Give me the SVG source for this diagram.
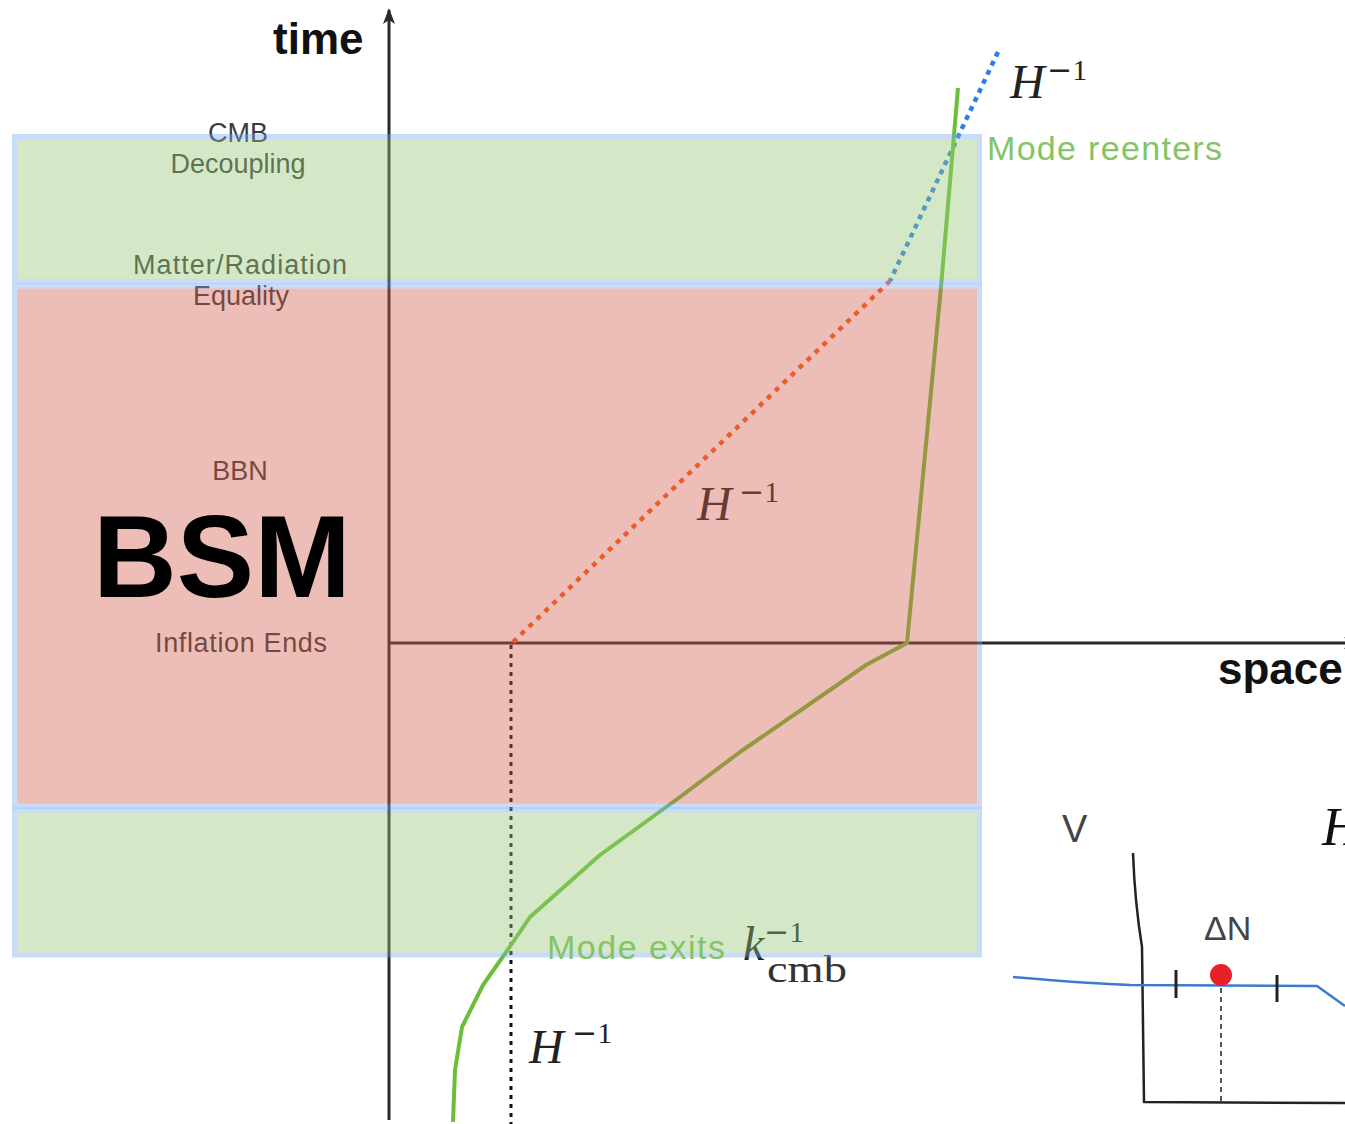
<svg xmlns="http://www.w3.org/2000/svg" width="1345" height="1124" viewBox="0 0 1345 1124">
<style>
.lbl{font-family:"Liberation Sans",Arial,sans-serif;font-size:27px;fill:#3a3a3a;text-anchor:middle}
.ax{font-family:"Liberation Sans",Arial,sans-serif;font-weight:bold;font-size:44px;fill:#111}
.mode{font-family:"Liberation Sans",Arial,sans-serif;font-size:34px;fill:#84c466}
.mi{font-family:"Liberation Serif","Times New Roman",serif;font-style:italic;font-size:48px;fill:#222}
.sup{font-family:"Liberation Serif","Times New Roman",serif;font-size:30px;fill:#222}
.mn{font-family:"DejaVu Serif",serif}
.sub{font-family:"Liberation Serif","Times New Roman",serif;font-size:38px;fill:#333}
.axis{stroke:#2a2a2a;stroke-width:3;fill:none}
.region{opacity:0.4;stroke:#78aaf5;stroke-width:5}
.sketch{font-family:"Liberation Sans",Arial,sans-serif;fill:#444}
</style>
<defs>
<marker id="arr" viewBox="0 0 16 16" refX="14" refY="8" markerWidth="16" markerHeight="16" markerUnits="userSpaceOnUse" orient="auto">
<path d="M0,2 L16,8 L0,14 L4,8 Z" fill="#2a2a2a"/>
</marker>
</defs>

<g id="connectors">
<line id="time-axis" class="axis" x1="389" y1="1120" x2="389" y2="10" marker-end="url(#arr)"/>
<line id="space-axis" class="axis" x1="389" y1="643" x2="1358" y2="643" marker-end="url(#arr)"/>
<line id="hubble-blue" x1="998" y1="52" x2="890" y2="281" stroke="#2b7de9" stroke-width="4.5" stroke-dasharray="5 5" fill="none"/>
<line id="hubble-red" x1="890" y1="281" x2="512" y2="643" stroke="#ff5a10" stroke-width="4.5" stroke-dasharray="5 6" fill="none"/>
<line id="hubble-inflation" x1="511" y1="645" x2="511" y2="1124" stroke="#111" stroke-width="3" stroke-dasharray="4 5" fill="none"/>
<path id="mode" d="M958,88 L941,287 L907,643 L866,665 L830,690 L740,752 L680,797 L600,855 L530,917 L511,945 L483,985 L462,1027 L455,1070 L453,1122" stroke="#6abf3a" stroke-width="4" fill="none" stroke-linejoin="round"/>
</g>

<g id="label-cmb"><text class="lbl" x="238" y="142">CMB</text><text class="lbl" x="238" y="173">Decoupling</text></g>
<g id="label-equality"><text class="lbl" x="240" y="274" textLength="214">Matter/Radiation</text><text class="lbl" x="241" y="305">Equality</text></g>
<g id="label-bbn"><text class="lbl" x="240" y="480">BBN</text></g>
<g id="label-inflation"><text class="lbl" x="241" y="652" textLength="172">Inflation Ends</text></g>

<g id="math-h-top"><text class="mi" x="1010" y="98">H</text><text class="sup" x="1047" y="80"><tspan class="mn">−</tspan>1</text></g>
<g id="math-h-mid"><text class="mi" x="697" y="520">H</text><text class="sup" x="739" y="502"><tspan class="mn">−</tspan>1</text></g>
<g id="math-h-bot"><text class="mi" x="529" y="1063">H</text><text class="sup" x="572" y="1043"><tspan class="mn">−</tspan>1</text></g>
<g id="math-k"><text class="mi" x="743" y="960">k</text><text class="sup" x="764" y="942"><tspan class="mn">−</tspan>1</text><text class="sub" x="767" y="982" textLength="80" lengthAdjust="spacingAndGlyphs">cmb</text></g>

<g id="regions">
<rect id="region-radiation" class="region" x="14.5" y="136.5" width="965" height="145" fill="#96c878"/>
<rect id="region-bsm" class="region" x="14.5" y="286" width="965" height="520" fill="#d45f4d"/>
<rect id="region-inflation" class="region" x="14.5" y="810" width="965" height="145" fill="#96c878"/>
</g>

<g id="label-time"><text class="ax" x="273" y="54">time</text></g>
<g id="label-space"><text class="ax" x="1218" y="684">space</text></g>
<g id="label-bsm"><text x="93" y="597" font-family="Liberation Sans,Arial,sans-serif" font-weight="bold" font-size="116" fill="#000">BSM</text></g>
<g id="label-reenters"><text class="mode" x="987" y="160" textLength="235">Mode reenters</text></g>
<g id="label-exits"><text class="mode" x="547" y="959" textLength="178">Mode exits</text></g>

<g id="inset">
<text class="sketch" x="1062" y="842" font-size="38">V</text>
<text class="sketch" x="1204" y="940" font-size="34">ΔN</text>
<path d="M1133,853 C1134,880 1136,910 1142,947 L1144,1102 L1345,1103" stroke="#222" stroke-width="2.5" fill="none" stroke-linejoin="round"/>
<path d="M1013,977 C1060,981 1100,984 1130,985 L1317,986 L1345,1006" stroke="#3a7bcc" stroke-width="2.5" fill="none" stroke-linejoin="round"/>
<line x1="1176" y1="970" x2="1176" y2="998" stroke="#222" stroke-width="3"/>
<line x1="1277" y1="975" x2="1277" y2="1002" stroke="#222" stroke-width="3"/>
<line x1="1221" y1="988" x2="1221" y2="1101" stroke="#555" stroke-width="2" stroke-dasharray="5 4"/>
<circle cx="1221" cy="975" r="11" fill="#e8202a"/>
<text x="1322" y="845" font-family="Liberation Serif,Times New Roman,serif" font-style="italic" font-size="54" fill="#111">H</text>
</g>
</svg>
